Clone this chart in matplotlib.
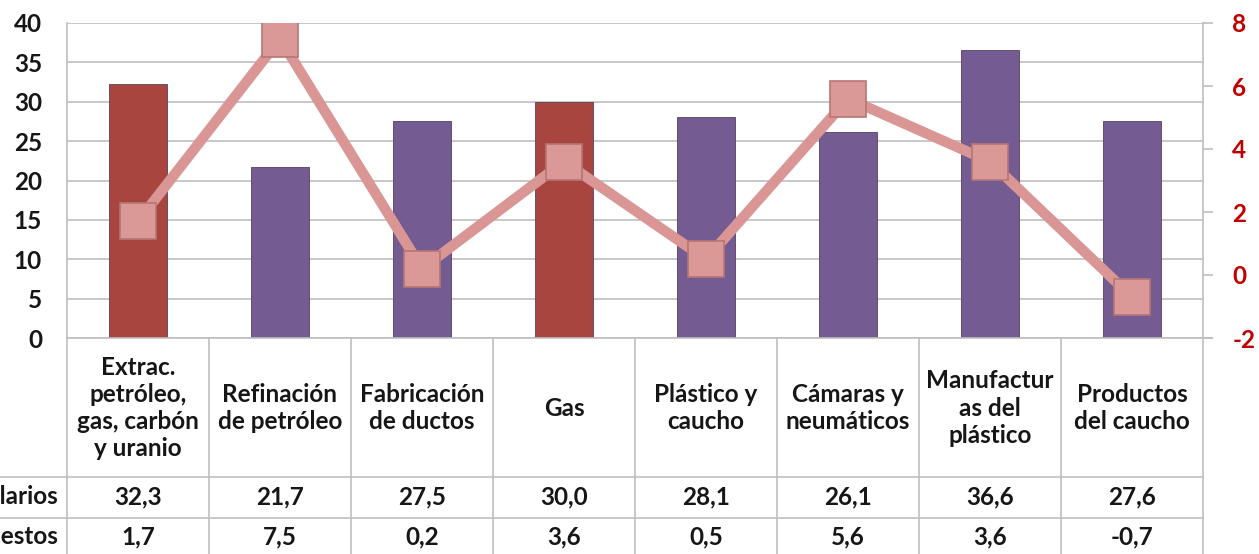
import matplotlib
matplotlib.use("Agg")
import matplotlib.pyplot as plt

plt.rcParams['font.family'] = ['Lato', 'DejaVu Sans']
plt.rcParams['axes.unicode_minus'] = False

categories = ["Extrac.\npetróleo,\ngas, carbón\ny uranio", "Refinación\nde petróleo",
              "Fabricación\nde ductos", "Gas", "Plástico y\ncaucho", "Cámaras y\nneumáticos",
              "Manufactur\nas del\nplástico", "Productos\ndel caucho"]
salarios = [32.3, 21.7, 27.5, 30.0, 28.1, 26.1, 36.6, 27.6]
puestos = [1.7, 7.5, 0.2, 3.6, 0.5, 5.6, 3.6, -0.7]
row_labels = ["Salarios", "Puestos"]
bar_colors = ["#A8453F", "#745B91", "#745B91", "#A8453F", "#745B91", "#745B91", "#745B91", "#745B91"]

W, H = 1259, 554
fig = plt.figure(figsize=(W / 100, H / 100), dpi=100)
grid_c = "#BFBFBF"
txt_c = "#161616"
fs = 17.5

# main plot area
x0, x1, ytop, ybot = 67, 1203, 23, 338
ax = fig.add_axes([x0 / W, (H - ybot) / H, (x1 - x0) / W, (ybot - ytop) / H])
xs = list(range(len(categories)))
ax.bar(xs, salarios, width=0.41, color=bar_colors, edgecolor="#5a3f5f", linewidth=0.6, zorder=3)
ax.set_xlim(-0.5, len(categories) - 0.5)
ax.set_ylim(0, 40)
ax.set_yticks(range(0, 41, 5))
ax.set_xticks([])
ax.grid(axis="y", color=grid_c, linewidth=1.2, zorder=0)
for s in ["top", "right", "bottom"]:
    ax.spines[s].set_visible(False)
ax.spines["left"].set_color(grid_c)
ax.spines["left"].set_linewidth(1.2)
ax.tick_params(axis="y", length=0, pad=18, labelsize=fs, labelcolor=txt_c)
for t in ax.get_yticklabels():
    t.set_fontweight("bold")

ax2 = ax.twinx()
ax2.plot(xs, puestos, color="#D99694", linewidth=7.5, marker="s", markersize=26,
         markerfacecolor="#DA9896", markeredgecolor="#B57673", markeredgewidth=1.2, zorder=4)
ax2.set_ylim(-2, 8)
ax2.set_yticks(range(-2, 9, 2))
for s in ["top", "left", "bottom"]:
    ax2.spines[s].set_visible(False)
ax2.spines["right"].set_color(grid_c)
ax2.spines["right"].set_linewidth(1.2)
ax2.tick_params(axis="y", length=7, width=1.2, color=grid_c, direction="out", pad=14,
                labelsize=fs, labelcolor="#C00000")
for t in ax2.get_yticklabels():
    t.set_fontweight("bold")
ax2.axhline(-2, xmin=0, xmax=1.008, color=grid_c, linewidth=1.2, clip_on=False)

# data table below
tb_h = H - ybot
tax = fig.add_axes([x0 / W, 0, (x1 - x0) / W, tb_h / H])
tax.set_xlim(-0.5, len(categories) - 0.5)
tax.set_ylim(tb_h, 0)
tax.axis("off")
row_y = [139, 180]
for xv in [i - 0.5 for i in range(len(categories) + 1)]:
    tax.plot([xv, xv], [0, tb_h], color=grid_c, linewidth=1.2, clip_on=False)
for yv in row_y:
    tax.axhline(yv, xmin=-x0 / (x1 - x0), xmax=1, color=grid_c, linewidth=1.2, clip_on=False)

for i, c in enumerate(categories):
    tax.text(i, 70, c, ha="center", va="center", fontsize=fs, fontweight="bold",
             linespacing=1.22, color=txt_c)
    tax.text(i, 159, f"{salarios[i]:.1f}".replace(".", ","), ha="center", va="center",
             fontsize=fs, fontweight="bold", color=txt_c)
    tax.text(i, 199, f"{puestos[i]:.1f}".replace(".", ","), ha="center", va="center",
             fontsize=fs, fontweight="bold", color=txt_c)

for lbl, yv in zip(row_labels, [159, 199]):
    fig.text(58 / W, 1 - (ybot + yv) / H, lbl, ha="right", va="center", fontsize=fs,
             fontweight="bold", color=txt_c)

fig.savefig("out.png", dpi=100)
